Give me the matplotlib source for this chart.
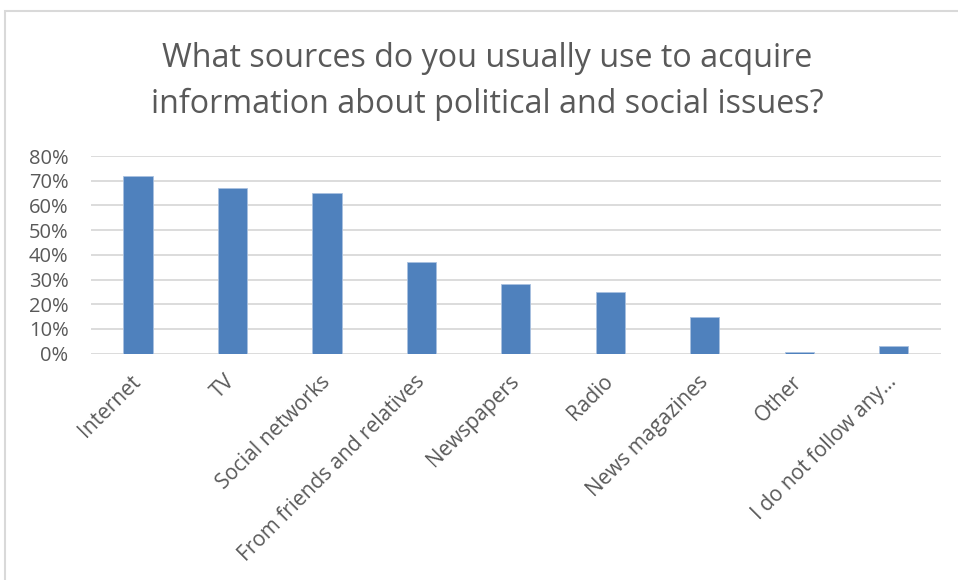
import matplotlib
matplotlib.use("Agg")
import matplotlib.pyplot as plt
from matplotlib.patches import Rectangle
from matplotlib.ticker import FuncFormatter, MultipleLocator

categories = [
    "Internet", "TV", "Social networks", "From friends and relatives",
    "Newspapers", "Radio", "News magazines", "Other", "I do not follow any\u2026",
]
shares = [0.72, 0.67, 0.65, 0.37, 0.28, 0.25, 0.15, 0.005, 0.03]

title_lines = [
    "What sources do you usually use to acquire",
    "information about political and social issues?",
]

TEXT = "#595959"
BAR = "#4F81BD"
GRID = "#D9D9D9"

plt.rcParams["font.family"] = ["Open Sans", "DejaVu Sans"]

W, H = 958, 580
fig = plt.figure(figsize=(W / 100, H / 100), dpi=100)

# chart frame, running off the right and bottom edges
fig.patches.append(Rectangle((5 / W, -0.1), 1.2, 1.1 - 11 / H, transform=fig.transFigure,
                             fill=False, edgecolor=GRID, linewidth=1.5))

left, right = 90.7 / W, 941 / W
bottom, top = (H - 353.6) / H, (H - 156) / H
ax = fig.add_axes([left, bottom, right - left, top - bottom])

x = range(len(categories))
ax.bar(x, shares, width=0.31, color=BAR, edgecolor="#A9C1E0", linewidth=0.6, zorder=3)

ax.set_xlim(-0.5, len(categories) - 0.5)
ax.set_ylim(0, 0.8)
ax.yaxis.set_major_locator(MultipleLocator(0.1))
ax.yaxis.set_major_formatter(FuncFormatter(lambda v, _: f"{v * 100:.0f}%"))
ax.grid(axis="y", color=GRID, linewidth=1.3, zorder=0)
ax.set_axisbelow(True)
for s in ax.spines.values():
    s.set_visible(False)
ax.tick_params(axis="both", length=0, colors=TEXT)
ax.tick_params(axis="y", pad=16, labelsize=14.5)

ax.set_xticks(list(x))
ax.set_xticklabels(categories, rotation=45, ha="right", va="center",
                   rotation_mode="anchor", fontsize=15, color=TEXT)
ax.tick_params(axis="x", pad=18)

for baseline, line in zip((67, 113), title_lines):
    fig.text(487.5 / W, 1 - baseline / H, line, ha="center", va="baseline",
             fontsize=23.2, color=TEXT)

fig.savefig("out.png", dpi=100)
